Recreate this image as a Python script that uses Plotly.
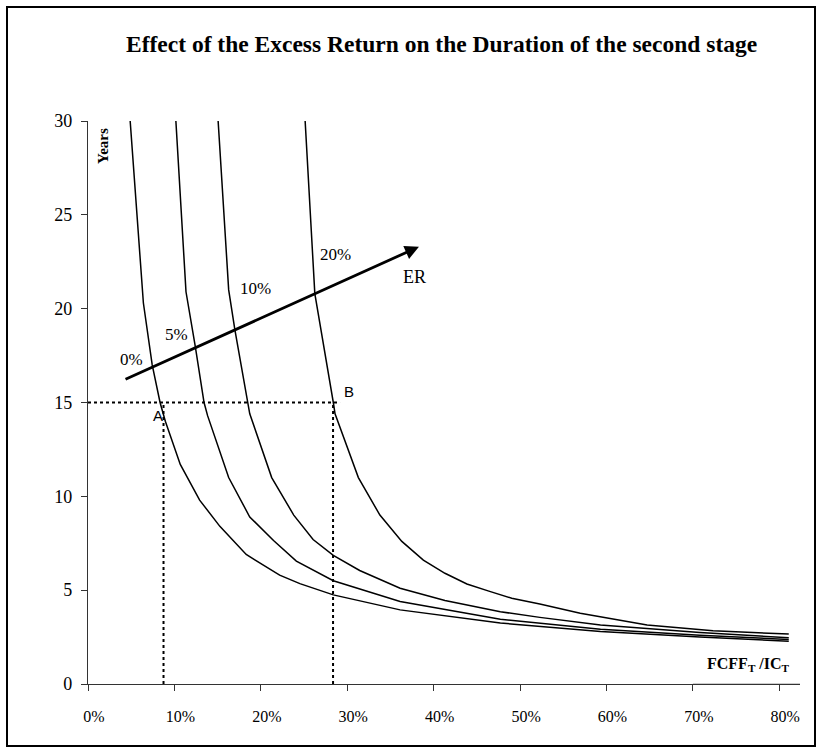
import plotly.graph_objects as go

# ---- data ----
er_labels = ["0%", "5%", "10%", "20%"]

x_er0 = [0.0488, 0.0641, 0.0743, 0.0834, 0.0895, 0.1068, 0.1292, 0.1526, 0.1831, 0.2218, 0.2452, 0.2839, 0.3612, 0.4772, 0.5931, 0.7081, 0.811]
y_er0 = [30.0, 20.3, 17.0, 15.0, 14.0, 11.7, 9.8, 8.4, 6.9, 5.8, 5.35, 4.75, 3.95, 3.25, 2.80, 2.50, 2.28]

x_er5 = [0.1017, 0.1134, 0.1241, 0.1343, 0.1384, 0.1628, 0.1872, 0.2147, 0.2411, 0.2839, 0.3612, 0.4772, 0.5931, 0.7081, 0.811]
y_er5 = [30.0, 20.9, 18.0, 15.0, 14.3, 11.0, 8.9, 7.65, 6.55, 5.5, 4.4, 3.45, 2.92, 2.60, 2.37]

x_er10 = [0.1506, 0.1628, 0.1699, 0.1852, 0.1872, 0.2126, 0.2381, 0.2605, 0.2839, 0.3144, 0.3612, 0.4131, 0.4772, 0.5229, 0.5931, 0.7081, 0.811]
y_er10 = [30.0, 21.0, 18.9, 15.0, 14.4, 11.0, 9.0, 7.7, 6.85, 6.05, 5.1, 4.45, 3.85, 3.55, 3.15, 2.75, 2.46]

x_er20 = [0.2513, 0.2625, 0.2839, 0.2859, 0.3129, 0.3378, 0.3632, 0.3881, 0.4131, 0.4385, 0.4639, 0.4904, 0.5229, 0.5697, 0.6471, 0.7234, 0.811]
y_er20 = [30.0, 20.8, 15.0, 14.4, 11.0, 9.0, 7.6, 6.6, 5.9, 5.33, 4.95, 4.57, 4.26, 3.77, 3.14, 2.84, 2.66]

# reference points A and B
point_names = ["A", "B"]
point_x = [0.0874, 0.2836]
point_y = [15.0, 15.0]
hline_end_x = 0.2917

# ER arrow (start / end)
arrow_x = [0.0417, 0.383]
arrow_y = [16.2, 23.3]

# curve label positions
label_x = [0.0509, 0.1019, 0.1933, 0.2859]
label_y = [17.3, 18.6, 21.1, 22.9]

x_ticks = [0, 0.1, 0.2, 0.3, 0.4, 0.5, 0.6, 0.7, 0.8]
y_ticks = [0, 5, 10, 15, 20, 25, 30]

SERIF = "Liberation Serif, Times New Roman, serif"
SANS = "Liberation Sans, Arial, sans-serif"

# plot area geometry (pixels)
L, R, T, B = 88, 21, 121, 69
PW, PH = 821 - L - R, 753 - T - B

def px_x(p):
    return (p - L) / PW

def px_y(p):
    return (753 - B - p) / PH

fig = go.Figure()
for xs, ys, name in [(x_er0, y_er0, er_labels[0]), (x_er5, y_er5, er_labels[1]),
                     (x_er10, y_er10, er_labels[2]), (x_er20, y_er20, er_labels[3])]:
    fig.add_trace(go.Scatter(x=xs, y=ys, mode="lines", name=name,
                             line=dict(color="black", width=1.5),
                             showlegend=False, hoverinfo="skip"))

# dotted guide lines
fig.add_shape(type="line", xref="x", yref="y", x0=0, x1=hline_end_x, y0=point_y[0], y1=point_y[0],
              line=dict(color="black", width=2, dash="dot"))
for px, py in zip(point_x, point_y):
    fig.add_shape(type="line", xref="x", yref="y", x0=px, x1=px, y0=0, y1=py,
                  line=dict(color="black", width=2, dash="dot"))

# lighter segment of x axis beyond 70%
fig.add_shape(type="line", xref="x", yref="y", x0=0.7, x1=0.824, y0=0, y1=0,
              line=dict(color="#9a9a9a", width=1.2))

# outer frame
fig.add_shape(type="rect", xref="paper", yref="paper",
              x0=px_x(7), x1=px_x(815), y0=px_y(746), y1=px_y(7),
              line=dict(color="black", width=2), layer="below")

annotations = []
annotations.append(dict(xref="paper", yref="paper", x=px_x(441), y=px_y(44),
                        text="<b>Effect of the Excess Return on the Duration of the second stage</b>",
                        showarrow=False, font=dict(family=SERIF, size=23.5, color="black"),
                        xanchor="center", yanchor="middle"))
annotations.append(dict(xref="paper", yref="paper", x=px_x(103), y=px_y(146),
                        text="<b>Years</b>", textangle=-90, showarrow=False,
                        font=dict(family=SERIF, size=15, color="black"),
                        xanchor="center", yanchor="middle"))
annotations.append(dict(xref="paper", yref="paper", x=px_x(748), y=px_y(664),
                        text="<b>FCFF<sub>T</sub> /IC<sub>T</sub></b>", showarrow=False,
                        font=dict(family=SERIF, size=16, color="black"),
                        xanchor="center", yanchor="middle"))
# ER arrow
annotations.append(dict(xref="x", yref="y", axref="x", ayref="y",
                        x=arrow_x[1], y=arrow_y[1], ax=arrow_x[0], ay=arrow_y[0],
                        text="", showarrow=True, arrowhead=2, arrowsize=1.0,
                        arrowwidth=2.8, arrowcolor="black", standoff=0, startstandoff=0))
annotations.append(dict(xref="x", yref="y", x=0.378, y=21.7, text="ER", showarrow=False,
                        font=dict(family=SERIF, size=18, color="black"),
                        xanchor="center", yanchor="middle"))
for lx, ly, t in zip(label_x, label_y, er_labels):
    annotations.append(dict(xref="x", yref="y", x=lx, y=ly, text=t, showarrow=False,
                            font=dict(family=SERIF, size=17, color="black"),
                            xanchor="center", yanchor="middle"))
annotations.append(dict(xref="x", yref="y", x=0.081, y=14.3, text=point_names[0], showarrow=False,
                        font=dict(family=SANS, size=15, color="black"),
                        xanchor="center", yanchor="middle"))
annotations.append(dict(xref="x", yref="y", x=0.302, y=15.6, text=point_names[1], showarrow=False,
                        font=dict(family=SANS, size=15, color="black"),
                        xanchor="center", yanchor="middle"))

fig.update_layout(
    width=821, height=753,
    margin=dict(l=L, r=R, t=T, b=B, pad=0),
    paper_bgcolor="white", plot_bgcolor="white",
    annotations=annotations,
    showlegend=False,
)
fig.update_xaxes(range=[0, 0.824], tickvals=x_ticks, tickformat=".0%",
                 showgrid=False, zeroline=False, showline=True, linecolor="#333333", linewidth=1.2,
                 ticks="outside", ticklen=6, tickcolor="#333333",
                 tickfont=dict(family=SERIF, size=16, color="black"),
                 ticklabelstandoff=12, ticklabelshift=6)
fig.update_yaxes(range=[0, 30], tickvals=y_ticks,
                 showgrid=False, zeroline=False, showline=True, linecolor="#333333", linewidth=1.2,
                 ticks="outside", ticklen=6, tickcolor="#333333",
                 tickfont=dict(family=SERIF, size=18, color="black"),
                 ticklabelstandoff=5)

fig.write_html("out.html", config={"displayModeBar": False},
               post_script="document.body.style.margin='0px';")
